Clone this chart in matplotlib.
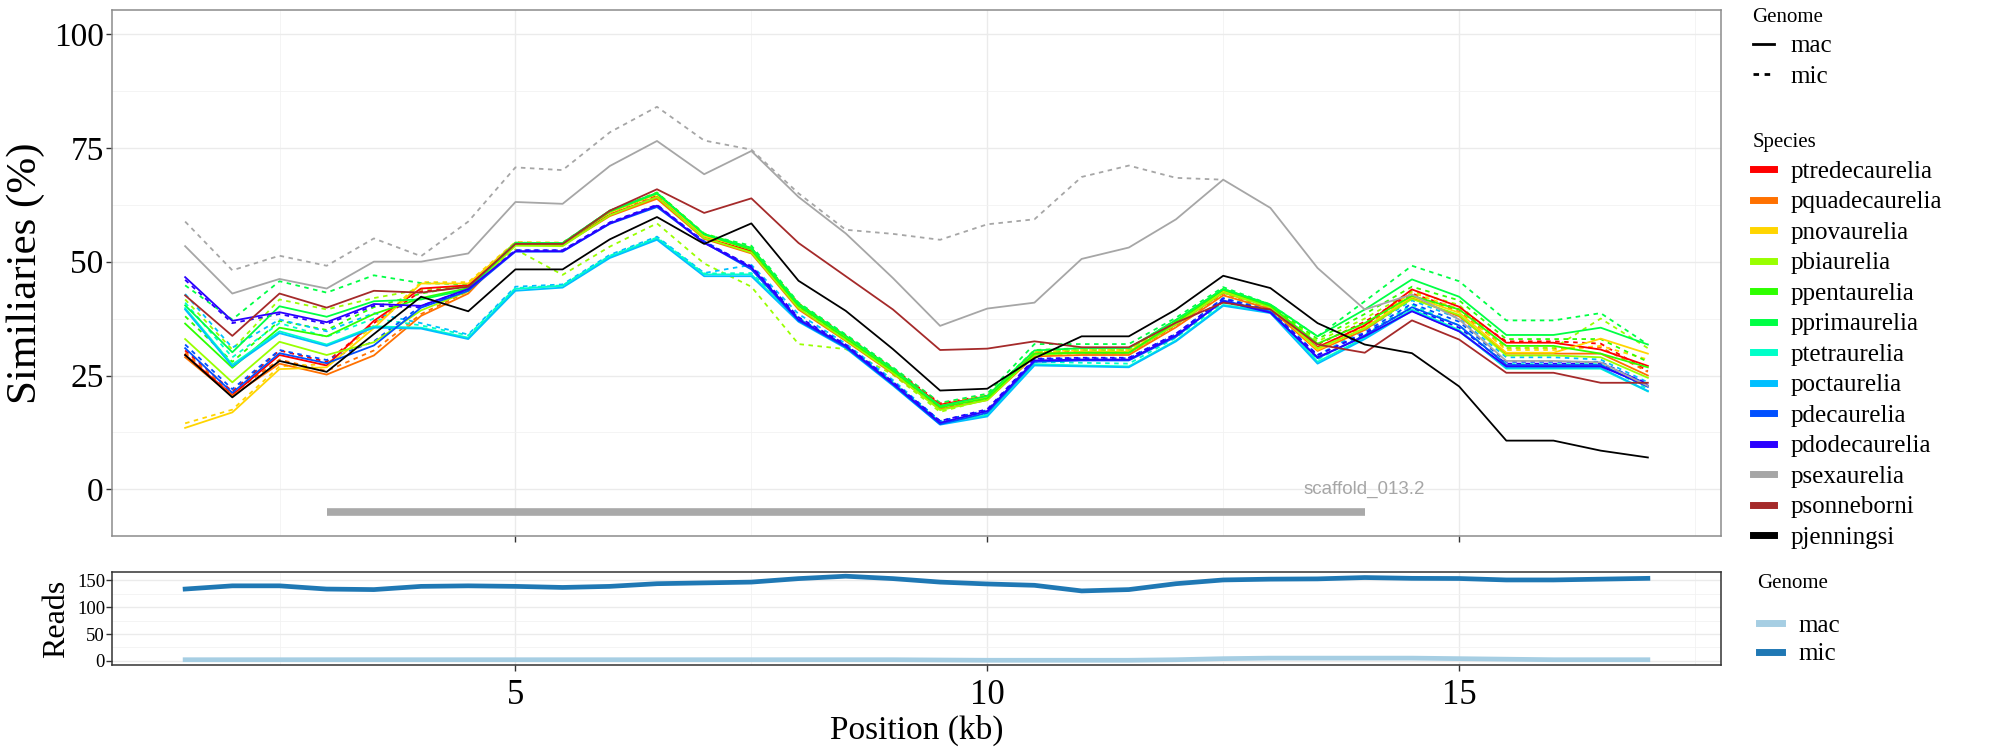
import matplotlib
matplotlib.use("Agg")
import matplotlib.pyplot as plt
from matplotlib.lines import Line2D
import numpy as np

# positions (kb)
pos = [1.5, 2.0, 2.5, 3.0, 3.5, 4.0, 4.5, 5.0, 5.5, 6.0, 6.5, 7.0, 7.5, 8.0, 8.5, 9.0,
       9.5, 10.0, 10.5, 11.0, 11.5, 12.0, 12.5, 13.0, 13.5, 14.0, 14.5, 15.0, 15.5, 16.0, 16.5, 17.0]

species = ["ptredecaurelia", "pquadecaurelia", "pnovaurelia", "pbiaurelia", "ppentaurelia",
           "pprimaurelia", "ptetraurelia", "poctaurelia", "pdecaurelia", "pdodecaurelia",
           "psexaurelia", "psonneborni", "pjenningsi"]
colors = ["#FF0000", "#FF7100", "#FFD500", "#99FF00", "#2EFF00",
          "#00FF45", "#00FFC8", "#00BFFF", "#0050FF", "#2A00FF",
          "#A6A6A6", "#A52A2A", "#000000"]

# similarity (%) - mac genome
mac_ptredecaurelia = [29.5, 20.7, 29.5, 27.2, 37.0, 44.1, 44.8, 54.0, 53.9, 60.3, 64.2, 55.3, 52.3, 40.3, 33.5, 26.3,
                      18.6, 20.4, 29.8, 30.0, 30.0, 36.2, 43.2, 40.2, 31.2, 36.0, 43.9, 40.1, 32.2, 32.2, 30.7, 27.1]
mac_pquadecaurelia = [29.0, 20.5, 27.6, 25.2, 29.4, 38.1, 43.0, 53.8, 53.6, 60.0, 63.8, 55.0, 51.8, 39.5, 32.6, 25.4,
                      17.6, 19.6, 29.2, 29.5, 29.5, 35.6, 42.6, 39.6, 30.4, 35.0, 42.0, 38.0, 29.8, 29.8, 29.8, 25.0]
mac_pnovaurelia = [13.5, 16.9, 26.4, 26.8, 35.4, 45.2, 45.2, 54.1, 54.0, 60.8, 64.8, 55.6, 52.8, 40.4, 33.4, 26.2,
                   18.3, 20.3, 29.8, 30.2, 30.2, 36.4, 43.5, 40.2, 30.6, 35.5, 42.3, 38.8, 30.0, 30.0, 33.1, 29.8]
mac_pbiaurelia = [33.0, 23.5, 32.4, 29.5, 32.3, 39.3, 43.5, 53.5, 53.4, 60.2, 64.2, 55.2, 52.0, 39.8, 32.8, 25.6,
                  17.4, 19.6, 29.5, 30.0, 30.0, 36.2, 43.2, 40.0, 31.0, 35.3, 41.8, 38.3, 29.4, 29.4, 29.0, 24.5]
mac_ppentaurelia = [36.4, 26.7, 35.5, 33.6, 38.5, 42.0, 44.2, 54.0, 53.9, 61.0, 65.0, 56.0, 52.6, 40.3, 33.2, 26.0,
                    18.0, 20.0, 29.8, 30.0, 30.0, 36.7, 43.8, 40.3, 32.0, 36.5, 42.5, 39.5, 31.5, 31.5, 29.8, 26.8]
mac_pprimaurelia = [40.4, 30.1, 40.2, 37.9, 41.3, 41.7, 43.9, 54.1, 54.1, 61.2, 65.0, 56.0, 53.0, 40.6, 33.7, 26.4,
                    18.3, 20.5, 30.5, 31.0, 31.0, 37.2, 44.0, 40.6, 33.6, 39.5, 46.1, 42.3, 33.9, 33.9, 35.5, 31.8]
mac_ptetraurelia = [39.8, 27.4, 34.7, 31.8, 35.8, 35.5, 33.3, 44.0, 44.7, 51.1, 55.1, 47.2, 47.2, 37.0, 31.3, 23.0,
                    14.5, 16.3, 27.5, 27.2, 27.0, 32.7, 40.5, 39.0, 28.0, 33.3, 39.5, 35.0, 26.5, 26.5, 26.5, 21.5]
mac_poctaurelia = [39.5, 27.0, 34.3, 31.5, 35.5, 35.3, 33.0, 43.6, 44.3, 50.8, 54.8, 46.8, 46.8, 36.8, 31.0, 22.8,
                   14.2, 16.0, 27.2, 27.0, 26.8, 32.5, 40.3, 38.7, 27.6, 33.0, 39.2, 34.7, 26.7, 26.7, 26.7, 21.6]
mac_pdecaurelia = [31.0, 21.2, 29.9, 27.7, 31.6, 39.9, 43.6, 52.2, 52.2, 58.3, 62.0, 54.2, 48.3, 37.0, 31.2, 23.0,
                   14.3, 16.8, 28.0, 28.3, 28.3, 33.5, 41.5, 39.0, 28.8, 33.8, 40.0, 36.0, 27.3, 27.3, 27.3, 22.5]
mac_pdodecaurelia = [46.6, 37.0, 38.9, 36.7, 40.7, 40.3, 44.0, 52.3, 52.3, 58.4, 62.3, 54.1, 48.7, 37.3, 31.5, 23.2,
                     14.6, 17.2, 28.3, 28.5, 28.5, 33.8, 41.3, 38.8, 29.0, 33.6, 39.1, 34.7, 27.0, 27.0, 27.0, 22.8]
mac_psexaurelia = [53.4, 43.0, 46.2, 44.1, 50.0, 50.0, 51.8, 63.1, 62.7, 71.0, 76.5, 69.2, 74.3, 64.2, 56.2, 46.4,
                   35.9, 39.7, 41.0, 50.6, 53.1, 59.3, 68.0, 61.8, 48.6, 39.5, 42.8, 37.3, 28.2, 28.2, 27.9, 22.7]
mac_psonneborni = [42.6, 33.7, 43.0, 39.9, 43.6, 43.2, 44.5, 53.9, 53.9, 61.2, 65.9, 60.7, 63.9, 54.1, 46.8, 39.5,
                   30.6, 30.9, 32.5, 31.2, 31.2, 36.6, 41.0, 39.5, 31.8, 30.0, 37.1, 32.9, 25.6, 25.6, 23.4, 23.4]
mac_pjenningsi = [29.5, 20.2, 28.2, 25.8, 34.1, 42.3, 39.1, 48.3, 48.3, 54.9, 59.8, 53.9, 58.4, 45.8, 39.2, 30.8,
                  21.7, 22.1, 28.8, 33.6, 33.6, 39.5, 46.9, 44.2, 36.5, 31.8, 29.9, 22.6, 10.7, 10.7, 8.5, 7.0]

# similarity (%) - mic genome
mic_ptredecaurelia = [30.5, 21.5, 30.5, 28.0, 36.5, 43.5, 44.5, 54.2, 54.0, 60.8, 64.6, 55.6, 53.0, 40.8, 33.8, 26.6,
                      18.9, 20.6, 30.0, 30.4, 30.4, 36.7, 43.8, 40.4, 31.8, 36.8, 43.0, 39.5, 32.5, 32.5, 32.0, 26.0]
mic_pquadecaurelia = [30.0, 21.0, 28.5, 26.0, 30.5, 38.5, 43.5, 53.9, 53.8, 60.4, 64.2, 55.2, 52.2, 40.0, 33.0, 25.8,
                      17.9, 19.9, 29.6, 29.9, 29.9, 36.0, 43.0, 39.9, 30.8, 35.8, 42.8, 39.0, 31.0, 31.0, 31.2, 25.8]
mic_pnovaurelia = [14.5, 17.5, 27.0, 27.5, 36.0, 45.5, 45.5, 54.3, 54.2, 61.0, 65.0, 55.8, 53.2, 40.8, 33.7, 26.5,
                   18.8, 20.7, 30.2, 30.6, 30.6, 36.9, 43.9, 40.5, 31.2, 36.2, 43.2, 39.6, 30.6, 30.6, 31.5, 28.5]
mic_pbiaurelia = [41.7, 30.7, 41.7, 39.5, 42.0, 43.9, 44.7, 52.7, 47.1, 53.3, 58.4, 49.6, 44.5, 31.9, 30.8, 25.2,
                  17.0, 19.8, 30.2, 30.6, 30.6, 37.0, 44.0, 40.4, 32.5, 37.5, 43.5, 40.5, 31.0, 31.0, 37.5, 31.0]
mic_ppentaurelia = [38.0, 28.0, 37.0, 35.0, 40.0, 43.0, 44.8, 54.2, 54.0, 61.2, 65.2, 56.2, 53.0, 40.8, 33.6, 26.5,
                    18.4, 20.5, 30.6, 31.0, 31.0, 37.2, 44.0, 40.5, 33.0, 38.5, 44.5, 41.5, 33.0, 33.0, 33.0, 28.0]
mic_pprimaurelia = [44.8, 37.3, 45.7, 43.2, 47.0, 45.3, 45.0, 54.1, 54.1, 61.2, 65.1, 56.0, 53.5, 41.0, 34.0, 26.8,
                    19.0, 21.0, 31.9, 31.9, 31.9, 37.7, 44.4, 40.6, 33.6, 41.3, 49.1, 45.7, 37.1, 37.1, 38.7, 31.8]
mic_ptetraurelia = [41.0, 29.0, 36.5, 33.5, 37.5, 36.0, 33.8, 44.2, 44.8, 51.3, 55.3, 47.4, 47.5, 37.5, 31.5, 23.5,
                    14.8, 16.5, 28.0, 27.8, 27.6, 33.3, 41.0, 39.2, 28.5, 34.0, 40.5, 36.0, 27.5, 27.5, 27.5, 22.0]
mic_poctaurelia = [42.9, 31.1, 37.3, 34.7, 38.7, 36.5, 34.0, 44.5, 45.0, 51.5, 55.5, 47.5, 49.3, 38.5, 32.0, 24.0,
                   15.0, 17.0, 28.5, 28.5, 28.5, 34.0, 42.0, 39.5, 29.5, 35.0, 41.5, 37.5, 29.0, 29.0, 28.5, 23.5]
mic_pdecaurelia = [31.8, 22.0, 30.6, 28.4, 32.5, 40.3, 43.9, 52.5, 52.5, 58.6, 62.4, 54.5, 48.8, 37.6, 31.6, 23.6,
                   15.0, 17.4, 28.6, 28.8, 28.8, 34.1, 42.0, 39.3, 29.4, 34.5, 40.8, 36.8, 28.0, 28.0, 28.0, 23.0]
mic_pdodecaurelia = [46.0, 36.5, 38.5, 36.3, 40.3, 40.0, 43.8, 52.5, 52.5, 58.6, 62.5, 54.3, 49.0, 37.8, 31.8, 23.6,
                     15.0, 17.6, 28.7, 28.9, 28.9, 34.2, 41.8, 39.1, 29.5, 34.2, 39.8, 35.5, 27.6, 27.6, 27.6, 23.2]
mic_psexaurelia = [58.8, 48.1, 51.3, 49.1, 55.1, 51.2, 58.8, 70.7, 70.1, 78.4, 84.0, 76.6, 74.6, 65.0, 57.0, 56.1,
                   54.8, 58.2, 59.3, 68.6, 71.1, 68.4, 68.0, None, None, None, None, None, None, None, None, None]

# reads coverage
reads_mac = [2, 2, 2, 2, 2, 2, 2, 2, 2, 2, 2, 2, 2, 2, 2, 2,
             1.5, 1, 1, 1, 1, 2, 4, 5, 5, 5, 5, 4, 3, 2, 2, 2]
reads_mic = [134, 140, 140, 134, 133, 139, 140, 139, 137, 139, 144, 145.5, 147, 153.5, 158, 153.5,
             147, 143.5, 141, 130.5, 133, 144, 151, 152.5, 153, 155.5, 154, 153.7, 151, 151, 152.5, 154]

# scaffold annotation
scaffold_name = "scaffold_013.2"
scaffold_start, scaffold_end, scaffold_y = 3.0, 14.0, -5

mac = {"ptredecaurelia": mac_ptredecaurelia, "pquadecaurelia": mac_pquadecaurelia,
       "pnovaurelia": mac_pnovaurelia, "pbiaurelia": mac_pbiaurelia, "ppentaurelia": mac_ppentaurelia,
       "pprimaurelia": mac_pprimaurelia, "ptetraurelia": mac_ptetraurelia, "poctaurelia": mac_poctaurelia,
       "pdecaurelia": mac_pdecaurelia, "pdodecaurelia": mac_pdodecaurelia, "psexaurelia": mac_psexaurelia,
       "psonneborni": mac_psonneborni, "pjenningsi": mac_pjenningsi}
mic = {"ptredecaurelia": mic_ptredecaurelia, "pquadecaurelia": mic_pquadecaurelia,
       "pnovaurelia": mic_pnovaurelia, "pbiaurelia": mic_pbiaurelia, "ppentaurelia": mic_ppentaurelia,
       "pprimaurelia": mic_pprimaurelia, "ptetraurelia": mic_ptetraurelia, "poctaurelia": mic_poctaurelia,
       "pdecaurelia": mic_pdecaurelia, "pdodecaurelia": mic_pdodecaurelia, "psexaurelia": mic_psexaurelia}

SERIF = "Liberation Serif"
plt.rcParams["font.family"] = [SERIF, "DejaVu Serif"]

fig = plt.figure(figsize=(20, 7.5), dpi=100)
ax = fig.add_axes([0.056, 0.2853, 0.8045, 0.7013])
ax2 = fig.add_axes([0.056, 0.1133, 0.8045, 0.124], sharex=ax)


def style_panel(a, edge):
    a.set_axisbelow(True)
    a.grid(True, which="major", color="#EBEBEB", lw=1.0)
    a.grid(True, which="minor", color="#F2F2F2", lw=0.6)
    for s in a.spines.values():
        s.set_color(edge)
        s.set_linewidth(1.1)
    a.tick_params(which="major", direction="out", length=4, width=1, color="#333333")
    a.tick_params(which="minor", length=0)


# main panel: mic (dashed) first, then mac (solid)
for sp, col in zip(species, colors):
    if sp in mic:
        y = np.array([np.nan if v is None else v for v in mic[sp]], dtype=float)
        ax.plot(pos, y, color=col, lw=1.3, dashes=(2.5, 2.5))
for sp, col in zip(species, colors):
    ax.plot(pos, mac[sp], color=col, lw=1.3)

ax.plot([scaffold_start, scaffold_end], [scaffold_y, scaffold_y], color="#A9A9A9", lw=5.5,
        solid_capstyle="butt")
ax.text(scaffold_end, 0, scaffold_name, color="#A6A6A6", fontsize=13.5, family="Liberation Sans",
        ha="center", va="center")

ax.set_xlim(0.725, 17.775)
ax.set_ylim(-10.25, 105.25)
ax.set_yticks([0, 25, 50, 75, 100])
ax.set_yticks([12.5, 37.5, 62.5, 87.5], minor=True)
ax.set_xticks([5, 10, 15])
ax.set_xticks([2.5, 7.5, 12.5, 17.5], minor=True)
style_panel(ax, "#8C8C8C")
ax.tick_params(axis="x", labelbottom=False)
ax.tick_params(axis="y", labelsize=24, pad=2)
ax.set_ylabel("Similiaries (%)", fontsize=31, labelpad=6)

# reads panel
ax2.plot(pos, reads_mac, color="#A6CEE3", lw=3.4, solid_joinstyle="round")
ax2.plot(pos, reads_mic, color="#1F78B4", lw=3.4, solid_joinstyle="round")
ax2.set_ylim(-7.9, 165.8)
ax2.set_yticks([0, 50, 100, 150])
ax2.set_yticks([25, 75, 125], minor=True)
style_panel(ax2, "#333333")
ax2.tick_params(axis="y", labelsize=13.5, pad=1)
ax2.tick_params(axis="x", labelsize=25, pad=6)
ax2.set_ylabel("Reads", fontsize=23, labelpad=4)
ax2.set_xlabel("Position (kb)", fontsize=24, labelpad=2)

# legends
leg_kw = dict(loc="upper left", frameon=False, fontsize=18, title_fontsize=15,
              handlelength=0.87, handletextpad=0.66, labelspacing=0.32, borderpad=0, alignment="left")

genome_handles = [Line2D([], [], color="black", lw=2), Line2D([], [], color="black", lw=2, dashes=(2.0, 2.0))]
fig.legend(genome_handles, ["mac", "mic"], title="Genome", bbox_to_anchor=(0.870, 1.006), **leg_kw)

species_handles = [Line2D([], [], color=c, lw=5) for c in colors]
fig.legend(species_handles, species, title="Species", bbox_to_anchor=(0.870, 0.8387), **leg_kw)

# reads legend: separate title so its gap to the keys can follow the reference
reads_handles = [Line2D([], [], color="#A6CEE3", lw=5), Line2D([], [], color="#1F78B4", lw=5)]
reads_kw = dict(leg_kw, handlelength=0.95, labelspacing=0.24)
fig.text(0.8785, 1 - 583 / 750, "Genome", fontsize=15, ha="left", va="center")
fig.legend(reads_handles, ["mac", "mic"], bbox_to_anchor=(0.873, 1 - 602 / 750), **reads_kw)

fig.savefig("out.png", dpi=100)
